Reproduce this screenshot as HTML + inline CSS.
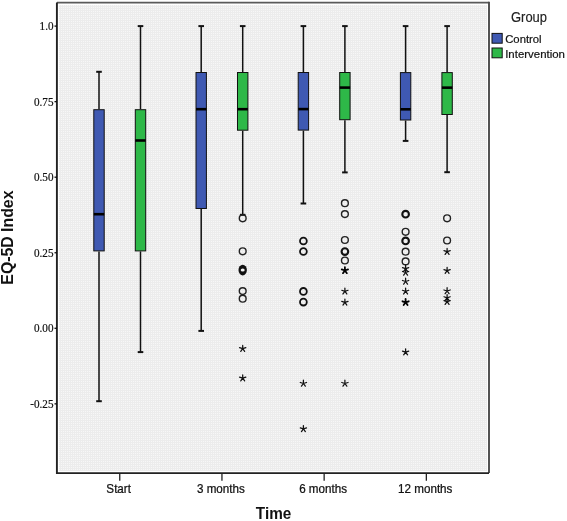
<!DOCTYPE html>
<html><head><meta charset="utf-8"><style>
html,body{margin:0;padding:0;background:#fff;width:567px;height:521px;overflow:hidden}
svg{display:block;will-change:transform}
.w{stroke:#111;stroke-width:1.5}
.cap{stroke:#111;stroke-width:2}
.box{stroke:#111;stroke-width:1}
.med{stroke:#000;stroke-width:2.6}
.out{fill:none;stroke:#222;stroke-width:1.4}
.outb{fill:none;stroke:#111;stroke-width:2.1}
.st{fill:none;stroke:#111;stroke-width:1.25;stroke-linecap:round}
.stb{fill:none;stroke:#000;stroke-width:1.8;stroke-linecap:round}
.tk{stroke:#111;stroke-width:1.3}
.tk2{stroke:#222;stroke-width:1.3}
.yl{font-family:"Liberation Serif",serif;font-size:12px;text-anchor:end;fill:#111;stroke:#111;stroke-width:0.2}
.xl{font-family:"Liberation Sans",sans-serif;font-size:12px;text-anchor:middle;fill:#111;stroke:#111;stroke-width:0.25}
.tt{font-family:"Liberation Sans",sans-serif;font-size:16px;font-weight:bold;fill:#111}
.lg{font-family:"Liberation Sans",sans-serif;font-size:11.3px;fill:#111;stroke:#111;stroke-width:0.2}
.lh{font-family:"Liberation Sans",sans-serif;font-size:14px;fill:#222;stroke:#222;stroke-width:0.15}
</style></head><body>
<svg width="567" height="521" viewBox="0 0 567 521">
<defs><pattern id="dp" x="0" y="0" width="2" height="2" patternUnits="userSpaceOnUse"><rect width="2" height="2" fill="#ececec" shape-rendering="crispEdges"/><rect x="1" y="1" width="1" height="1" fill="#f7f7f7" shape-rendering="crispEdges"/></pattern></defs>
<rect x="0" y="0" width="567" height="521" fill="#fff"/>
<rect x="58" y="3.7" width="430" height="468.6" fill="#fff"/>
<rect x="59" y="5" width="428" height="466" fill="url(#dp)" shape-rendering="crispEdges"/>
<path d="M56.9 2.6H489" fill="none" stroke="#5a5a5a" stroke-width="1.9"/><path d="M489 1.65V473.1" fill="none" stroke="#4a4a4a" stroke-width="1.9"/>
<path d="M56.9 2.6V473.1H489" fill="none" stroke="#222" stroke-width="1.9"/>
<line x1="54.5" y1="26.1" x2="57" y2="26.1" class="tk"/><text transform="translate(53.5,30.1) scale(0.93,1)" class="yl">1.0</text>
<line x1="54.5" y1="101.65" x2="57" y2="101.65" class="tk"/><text transform="translate(53.5,105.65) scale(0.93,1)" class="yl">0.75</text>
<line x1="54.5" y1="177.2" x2="57" y2="177.2" class="tk"/><text transform="translate(53.5,181.2) scale(0.93,1)" class="yl">0.50</text>
<line x1="54.5" y1="252.75" x2="57" y2="252.75" class="tk"/><text transform="translate(53.5,256.75) scale(0.93,1)" class="yl">0.25</text>
<line x1="54.5" y1="328.3" x2="57" y2="328.3" class="tk"/><text transform="translate(53.5,332.3) scale(0.93,1)" class="yl">0.00</text>
<line x1="54.5" y1="403.85" x2="57" y2="403.85" class="tk"/><text transform="translate(53.5,407.85) scale(0.93,1)" class="yl">-0.25</text>
<line x1="119.75" y1="473" x2="119.75" y2="480.8" class="tk2"/><text transform="translate(118.65,492.9) scale(0.97,1)" class="xl">Start</text>
<line x1="221.95" y1="473" x2="221.95" y2="480.8" class="tk2"/><text transform="translate(220.85,492.9) scale(0.97,1)" class="xl">3 months</text>
<line x1="324.15" y1="473" x2="324.15" y2="480.8" class="tk2"/><text transform="translate(323.05,492.9) scale(0.97,1)" class="xl">6 months</text>
<line x1="426.35" y1="473" x2="426.35" y2="480.8" class="tk2"/><text transform="translate(425.25,492.9) scale(0.97,1)" class="xl">12 months</text>
<line x1="99.0" y1="71.8" x2="99.0" y2="109.2" class="w"/>
<line x1="99.0" y1="251.4" x2="99.0" y2="401.2" class="w"/>
<line x1="96.2" y1="71.8" x2="101.8" y2="71.8" class="cap"/>
<line x1="96.2" y1="401.2" x2="101.8" y2="401.2" class="cap"/>
<rect x="93.80" y="109.70" width="10.40" height="141.20" fill="#3f59b2" class="box"/>
<line x1="93.80" y1="214.2" x2="104.20" y2="214.2" class="med"/>
<line x1="140.5" y1="26.1" x2="140.5" y2="109.2" class="w"/>
<line x1="140.5" y1="251.4" x2="140.5" y2="352.1" class="w"/>
<line x1="137.7" y1="26.1" x2="143.3" y2="26.1" class="cap"/>
<line x1="137.7" y1="352.1" x2="143.3" y2="352.1" class="cap"/>
<rect x="135.30" y="109.70" width="10.40" height="141.20" fill="#2eb848" class="box"/>
<line x1="135.30" y1="140.5" x2="145.70" y2="140.5" class="med"/>
<line x1="201.2" y1="26.1" x2="201.2" y2="72.0" class="w"/>
<line x1="201.2" y1="209.0" x2="201.2" y2="330.9" class="w"/>
<line x1="198.39999999999998" y1="26.1" x2="204.0" y2="26.1" class="cap"/>
<line x1="198.39999999999998" y1="330.9" x2="204.0" y2="330.9" class="cap"/>
<rect x="196.00" y="72.50" width="10.40" height="136.00" fill="#3f59b2" class="box"/>
<line x1="196.00" y1="109.2" x2="206.40" y2="109.2" class="med"/>
<line x1="242.7" y1="26.1" x2="242.7" y2="72.0" class="w"/>
<line x1="242.7" y1="130.7" x2="242.7" y2="214.8" class="w"/>
<line x1="239.89999999999998" y1="26.1" x2="245.5" y2="26.1" class="cap"/>
<line x1="239.89999999999998" y1="214.8" x2="245.5" y2="214.8" class="cap"/>
<rect x="237.50" y="72.50" width="10.40" height="57.70" fill="#2eb848" class="box"/>
<line x1="237.50" y1="109.2" x2="247.90" y2="109.2" class="med"/>
<circle cx="242.7" cy="218.3" r="3.4" class="out"/>
<circle cx="242.7" cy="251.3" r="3.4" class="out"/>
<ellipse cx="242.7" cy="270.1" rx="4.2" ry="5.3" fill="#111"/><ellipse cx="242.7" cy="270.0" rx="2.0" ry="1.5" fill="#f4f4f4"/>
<circle cx="242.7" cy="291.1" r="3.4" class="out"/>
<circle cx="242.7" cy="298.7" r="3.4" class="out"/>
<path d="M242.70 348.70L242.70 345.40M242.70 348.70L245.84 347.68M242.70 348.70L244.64 351.37M242.70 348.70L240.76 351.37M242.70 348.70L239.56 347.68M242.70 378.20L242.70 374.90M242.70 378.20L245.84 377.18M242.70 378.20L244.64 380.87M242.70 378.20L240.76 380.87M242.70 378.20L239.56 377.18" class="st"/>
<line x1="303.4" y1="26.1" x2="303.4" y2="72.0" class="w"/>
<line x1="303.4" y1="130.6" x2="303.4" y2="203.5" class="w"/>
<line x1="300.59999999999997" y1="26.1" x2="306.2" y2="26.1" class="cap"/>
<line x1="300.59999999999997" y1="203.5" x2="306.2" y2="203.5" class="cap"/>
<rect x="298.20" y="72.50" width="10.40" height="57.60" fill="#3f59b2" class="box"/>
<line x1="298.20" y1="109.1" x2="308.60" y2="109.1" class="med"/>
<circle cx="303.4" cy="241.0" r="3.4" class="out" style="stroke-width:1.8;stroke:#111"/>
<circle cx="303.4" cy="251.5" r="3.4" class="out" style="stroke-width:1.8;stroke:#111"/>
<circle cx="303.4" cy="291.4" r="3.4" class="out" style="stroke-width:1.8;stroke:#111"/>
<circle cx="303.4" cy="302.1" r="3.4" class="out" style="stroke-width:1.8;stroke:#111"/>
<path d="M303.40 383.50L303.40 380.20M303.40 383.50L306.54 382.48M303.40 383.50L305.34 386.17M303.40 383.50L301.46 386.17M303.40 383.50L300.26 382.48M303.40 428.90L303.40 425.60M303.40 428.90L306.54 427.88M303.40 428.90L305.34 431.57M303.40 428.90L301.46 431.57M303.40 428.90L300.26 427.88" class="st"/>
<line x1="344.9" y1="26.1" x2="344.9" y2="72.0" class="w"/>
<line x1="344.9" y1="120.2" x2="344.9" y2="172.4" class="w"/>
<line x1="342.09999999999997" y1="26.1" x2="347.7" y2="26.1" class="cap"/>
<line x1="342.09999999999997" y1="172.4" x2="347.7" y2="172.4" class="cap"/>
<rect x="339.70" y="72.50" width="10.40" height="47.20" fill="#2eb848" class="box"/>
<line x1="339.70" y1="87.6" x2="350.10" y2="87.6" class="med"/>
<circle cx="344.9" cy="203.2" r="3.4" class="out"/>
<circle cx="344.9" cy="214.1" r="3.4" class="out"/>
<circle cx="344.9" cy="240.0" r="3.4" class="out"/>
<circle cx="344.9" cy="251.6" r="3.3" class="outb"/>
<circle cx="344.9" cy="260.5" r="3.4" class="out"/>
<path d="M344.90 291.30L344.90 288.00M344.90 291.30L348.04 290.28M344.90 291.30L346.84 293.97M344.90 291.30L342.96 293.97M344.90 291.30L341.76 290.28M344.90 302.40L344.90 299.10M344.90 302.40L348.04 301.38M344.90 302.40L346.84 305.07M344.90 302.40L342.96 305.07M344.90 302.40L341.76 301.38M344.90 383.50L344.90 380.20M344.90 383.50L348.04 382.48M344.90 383.50L346.84 386.17M344.90 383.50L342.96 386.17M344.90 383.50L341.76 382.48" class="st"/>
<path d="M344.90 270.50L344.90 267.20M344.90 270.50L348.04 269.48M344.90 270.50L346.84 273.17M344.90 270.50L342.96 273.17M344.90 270.50L341.76 269.48" class="stb"/>
<line x1="405.6" y1="26.1" x2="405.6" y2="72.1" class="w"/>
<line x1="405.6" y1="120.5" x2="405.6" y2="140.9" class="w"/>
<line x1="402.8" y1="26.1" x2="408.40000000000003" y2="26.1" class="cap"/>
<line x1="402.8" y1="140.9" x2="408.40000000000003" y2="140.9" class="cap"/>
<rect x="400.40" y="72.60" width="10.40" height="47.40" fill="#3f59b2" class="box"/>
<line x1="400.40" y1="109.3" x2="410.80" y2="109.3" class="med"/>
<circle cx="405.6" cy="214.2" r="3.3" class="outb"/>
<circle cx="405.6" cy="231.8" r="3.4" class="out"/>
<circle cx="405.6" cy="240.9" r="3.3" class="outb"/>
<circle cx="405.6" cy="251.7" r="3.4" class="out"/>
<circle cx="405.6" cy="261.4" r="3.4" class="out"/>
<path d="M405.60 268.70L405.60 265.40M405.60 268.70L408.74 267.68M405.60 268.70L407.54 271.37M405.60 268.70L403.66 271.37M405.60 268.70L402.46 267.68M405.60 272.50L405.60 269.20M405.60 272.50L408.74 271.48M405.60 272.50L407.54 275.17M405.60 272.50L403.66 275.17M405.60 272.50L402.46 271.48M405.60 281.50L405.60 278.20M405.60 281.50L408.74 280.48M405.60 281.50L407.54 284.17M405.60 281.50L403.66 284.17M405.60 281.50L402.46 280.48M405.60 291.30L405.60 288.00M405.60 291.30L408.74 290.28M405.60 291.30L407.54 293.97M405.60 291.30L403.66 293.97M405.60 291.30L402.46 290.28M405.60 352.10L405.60 348.80M405.60 352.10L408.74 351.08M405.60 352.10L407.54 354.77M405.60 352.10L403.66 354.77M405.60 352.10L402.46 351.08" class="st"/>
<path d="M405.60 302.30L405.60 299.00M405.60 302.30L408.74 301.28M405.60 302.30L407.54 304.97M405.60 302.30L403.66 304.97M405.60 302.30L402.46 301.28" class="stb"/>
<line x1="447.1" y1="26.1" x2="447.1" y2="72.1" class="w"/>
<line x1="447.1" y1="115.0" x2="447.1" y2="172.2" class="w"/>
<line x1="444.3" y1="26.1" x2="449.90000000000003" y2="26.1" class="cap"/>
<line x1="444.3" y1="172.2" x2="449.90000000000003" y2="172.2" class="cap"/>
<rect x="441.90" y="72.60" width="10.40" height="41.90" fill="#2eb848" class="box"/>
<line x1="441.90" y1="87.65" x2="452.30" y2="87.65" class="med"/>
<circle cx="447.1" cy="218.3" r="3.4" class="out"/>
<circle cx="447.1" cy="240.5" r="3.4" class="out"/>
<path d="M447.10 251.70L447.10 248.40M447.10 251.70L450.24 250.68M447.10 251.70L449.04 254.37M447.10 251.70L445.16 254.37M447.10 251.70L443.96 250.68M447.10 270.60L447.10 267.30M447.10 270.60L450.24 269.58M447.10 270.60L449.04 273.27M447.10 270.60L445.16 273.27M447.10 270.60L443.96 269.58M447.10 291.00L447.10 287.70M447.10 291.00L450.24 289.98M447.10 291.00L449.04 293.67M447.10 291.00L445.16 293.67M447.10 291.00L443.96 289.98M447.10 297.80L447.10 294.50M447.10 297.80L450.24 296.78M447.10 297.80L449.04 300.47M447.10 297.80L445.16 300.47M447.10 297.80L443.96 296.78M447.10 301.70L447.10 298.40M447.10 301.70L450.24 300.68M447.10 301.70L449.04 304.37M447.10 301.70L445.16 304.37M447.10 301.70L443.96 300.68" class="st"/>
<text x="0" y="0" class="tt" transform="translate(13.2,237.6) rotate(-90) scale(0.99,1.02)" text-anchor="middle">EQ-5D Index</text>
<text class="tt" transform="translate(273.55,518.6) scale(0.957,1)" text-anchor="middle">Time</text>
<text transform="translate(511,21.5) scale(0.925,1.02)" class="lh">Group</text>
<rect x="492" y="33.4" width="10.2" height="9.8" fill="#3f59b2" stroke="#111" stroke-width="1"/>
<rect x="492" y="48" width="10.2" height="9.8" fill="#2eb848" stroke="#111" stroke-width="1"/>
<text x="505.2" y="43.2" class="lg">Control</text>
<text transform="translate(505.2,57.5) scale(1.012,1)" class="lg">Intervention</text>
</svg>
</body></html>
